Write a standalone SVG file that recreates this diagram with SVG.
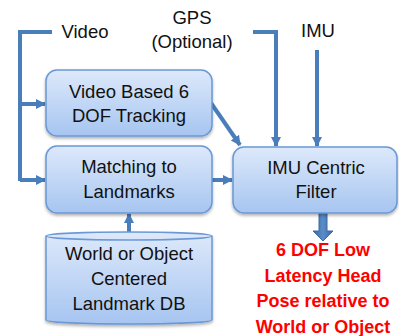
<svg xmlns="http://www.w3.org/2000/svg" width="399" height="336" viewBox="0 0 399 336">
  <defs>
    <linearGradient id="boxFill" x1="0" y1="0" x2="0" y2="1">
      <stop offset="0" stop-color="#dde9fb"/>
      <stop offset="1" stop-color="#a6c5f0"/>
    </linearGradient>
    <linearGradient id="thickFill" x1="0" y1="0" x2="1" y2="0">
      <stop offset="0" stop-color="#3b6aa3"/>
      <stop offset="0.5" stop-color="#5a8cc8"/>
      <stop offset="1" stop-color="#3b6aa3"/>
    </linearGradient>
    <filter id="shadow" x="-10%" y="-10%" width="120%" height="130%">
      <feDropShadow dx="0" dy="2" stdDeviation="1.5" flood-color="#000" flood-opacity="0.3"/>
    </filter>
    <marker id="arrow" markerUnits="userSpaceOnUse" markerWidth="12" markerHeight="12" refX="9" refY="6" orient="auto">
      <path d="M0,1 L10,6 L0,11 Z" fill="#4a7ebb"/>
    </marker>
  </defs>
  <style>
    .box { fill: url(#boxFill); stroke: #6a98d6; stroke-width: 1.5; filter: url(#shadow); }
    .lbl { font-family: "Liberation Sans", Arial, sans-serif; font-size: 18.5px; fill: #111; text-anchor: middle; }
    .out { font-family: "Liberation Sans", Arial, sans-serif; font-size: 18px; font-weight: bold; fill: #ff0000; text-anchor: middle; }
    .conn { fill: none; stroke: #4a7ebb; stroke-width: 4; }
  </style>

  <rect width="399" height="336" fill="#ffffff"/>

  <!-- input labels -->
  <g id="label-video"><text class="lbl" x="85" y="38">Video</text></g>
  <g id="label-gps">
    <text class="lbl" x="192" y="24">GPS</text>
    <text class="lbl" x="192" y="48">(Optional)</text>
  </g>
  <g id="label-imu"><text class="lbl" x="318" y="37">IMU</text></g>

  <!-- connectors -->
  <g id="connectors">
    <polyline class="conn" points="52,32 20,32 20,181"/>
    <line class="conn" x1="20" y1="104" x2="45" y2="104" marker-end="url(#arrow)"/>
    <line class="conn" x1="20" y1="180" x2="45" y2="180" marker-end="url(#arrow)"/>
    <polyline class="conn" points="253,32 276,32 276,146" marker-end="url(#arrow)"/>
    <line class="conn" x1="317" y1="50" x2="317" y2="146" marker-end="url(#arrow)"/>
    <line class="conn" x1="211" y1="103" x2="240" y2="145" marker-end="url(#arrow)"/>
    <line class="conn" x1="212" y1="180" x2="232" y2="180" marker-end="url(#arrow)"/>
    <line class="conn" x1="129" y1="232" x2="129" y2="214" marker-end="url(#arrow)"/>
    <path d="M319,213 H327 V231 H333 L323,241 L313,231 H319 Z" fill="url(#thickFill)" stroke="#3a6aa5" stroke-width="1"/>
  </g>

  <!-- processing nodes -->
  <g id="node-video-tracking">
    <rect class="box" x="46" y="70" width="166" height="66" rx="11"/>
    <text class="lbl" x="129" y="98">Video Based 6</text>
    <text class="lbl" x="129" y="122">DOF Tracking</text>
  </g>
  <g id="node-matching">
    <rect class="box" x="46" y="146" width="166" height="67" rx="11"/>
    <text class="lbl" x="129" y="173">Matching to</text>
    <text class="lbl" x="129" y="198">Landmarks</text>
  </g>
  <g id="node-imu-filter">
    <rect class="box" x="233" y="147" width="164" height="66" rx="11"/>
    <text class="lbl" x="316" y="174">IMU Centric</text>
    <text class="lbl" x="316" y="198">Filter</text>
  </g>
  <g id="node-landmark-db">
    <path class="box" d="M46,236 A83,4 0 0 1 212,236 V320 A83,4 0 0 1 46,320 Z"/>
    <path d="M46,236 A83,4 0 0 0 212,236" fill="none" stroke="#6a98d6" stroke-width="1.5"/>
    <text class="lbl" x="129" y="260">World or Object</text>
    <text class="lbl" x="129" y="285">Centered</text>
    <text class="lbl" x="129" y="310">Landmark DB</text>
  </g>

  <!-- output -->
  <g id="output-pose">
    <text class="out" x="323" y="256">6 DOF Low</text>
    <text class="out" x="323" y="282">Latency Head</text>
    <text class="out" x="323" y="307">Pose relative to</text>
    <text class="out" x="323" y="333">World or Object</text>
  </g>
</svg>
